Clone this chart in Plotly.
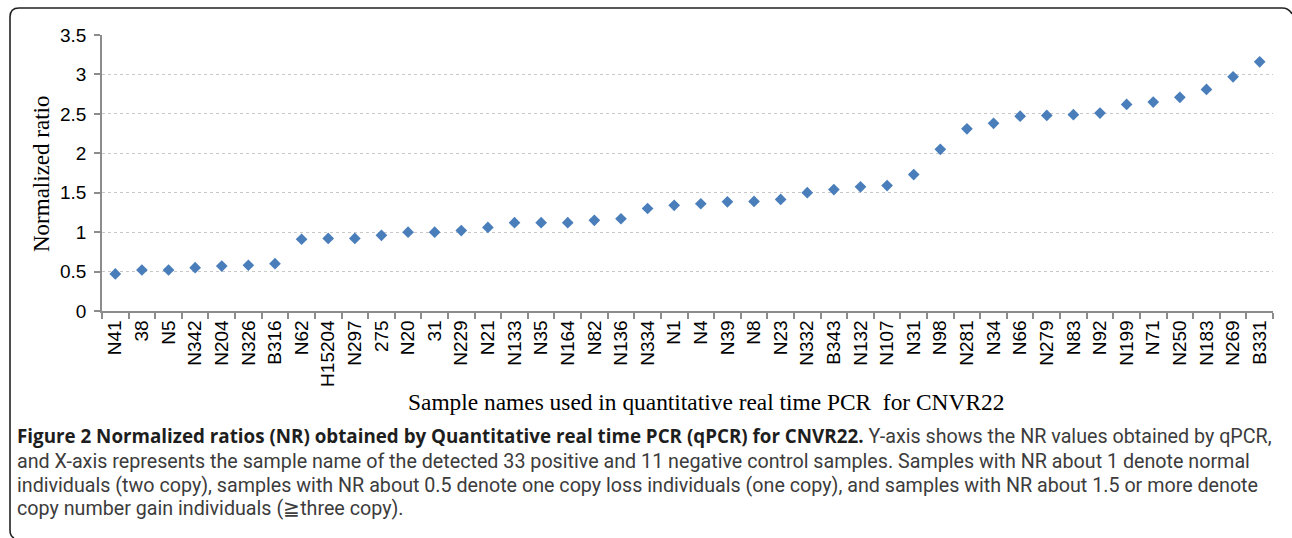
import plotly.graph_objects as go

W, H = 1292, 538

samples = ["N41", "38", "N5", "N342", "N204", "N326", "B316", "N62", "H15204", "N297",
           "275", "N20", "31", "N229", "N21", "N133", "N35", "N164", "N82", "N136",
           "N334", "N1", "N4", "N39", "N8", "N23", "N332", "B343", "N132", "N107",
           "N31", "N98", "N281", "N34", "N66", "N279", "N83", "N92", "N199", "N71",
           "N250", "N183", "N269", "B331"]
ratios = [0.47, 0.52, 0.52, 0.55, 0.57, 0.58, 0.60, 0.91, 0.92, 0.92,
          0.96, 1.00, 1.00, 1.02, 1.06, 1.12, 1.12, 1.12, 1.15, 1.17,
          1.30, 1.34, 1.36, 1.385, 1.39, 1.415, 1.50, 1.54, 1.575, 1.59,
          1.73, 2.05, 2.31, 2.38, 2.47, 2.48, 2.49, 2.51, 2.62, 2.65,
          2.71, 2.81, 2.97, 3.16]
y_ticks = [0, 0.5, 1, 1.5, 2, 2.5, 3, 3.5]

y_title = "Normalized ratio"
x_title = "Sample names used in quantitative real time PCR  for CNVR22"
caption_bold = "Figure 2 Normalized ratios (NR) obtained by Quantitative real time PCR (qPCR) for CNVR22."
caption_lines = [
    " Y-axis shows the NR values obtained by qPCR,",
    "and X-axis represents the sample name of the detected 33 positive and 11 negative control samples. Samples with NR about 1 denote normal",
    "individuals (two copy), samples with NR about 0.5 denote one copy loss individuals (one copy), and samples with NR about 1.5 or more denote",
    "copy number gain individuals (\u2267three copy).",
]


def px(x):
    return x / W


def py(y):
    return 1 - y / H


fig = go.Figure()
fig.add_trace(go.Scatter(
    x=samples, y=ratios, mode="markers",
    marker=dict(symbol="diamond", size=9, color="#4A7EBB", line=dict(width=0)),
    showlegend=False, hoverinfo="x+y",
))

axis_col = "#8C8C8C"
fig.update_layout(
    width=W, height=H,
    margin=dict(l=0, r=0, t=0, b=0, pad=0, autoexpand=False),
    paper_bgcolor="white", plot_bgcolor="white",
    xaxis=dict(
        domain=[px(102), px(1273)],
        type="category",
        range=[-0.5, len(samples) - 0.5],
        tickson="boundaries",
        ticks="outside", ticklen=6, tickwidth=1.5, tickcolor=axis_col,
        showline=True, linecolor=axis_col, linewidth=1.5,
        showgrid=False, zeroline=False,
        tickangle=-90, automargin=False,
        tickfont=dict(family="Liberation Sans, Arial", size=19, color="black"),
        anchor="y",
    ),
    yaxis=dict(
        domain=[py(311), py(35)],
        range=[0, 3.5],
        tickvals=y_ticks,
        ticktext=[f"{v:g}" for v in y_ticks],
        ticks="outside", ticklen=6, tickwidth=1.5, tickcolor=axis_col,
        ticklabelstandoff=4,
        showline=True, linecolor=axis_col, linewidth=1.5,
        showgrid=True, gridcolor="#C8C8C8", griddash="dot", gridwidth=1,
        zeroline=False, automargin=False,
        tickfont=dict(family="Liberation Sans, Arial", size=19, color="black"),
        anchor="x",
    ),
    font=dict(family="Liberation Sans, Arial", color="black"),
)

annotations = [
    dict(text=y_title, x=px(41), y=py(174), xref="paper", yref="paper",
         textangle=-90, showarrow=False, xanchor="center", yanchor="middle",
         font=dict(family="Liberation Serif, Times New Roman", size=23, color="black")),
    dict(text=x_title, x=px(706), y=py(402), xref="paper", yref="paper",
         showarrow=False, xanchor="center", yanchor="middle",
         font=dict(family="Liberation Serif, Times New Roman", size=23.4, color="black")),
]
cap_y = [436, 461, 485, 508]
for i, (line, yy) in enumerate(zip(caption_lines, cap_y)):
    text = line
    if i == 0:
        text = ("<span style=\"font-family:'Open Sans';font-size:18.8px;font-weight:bold;color:#1E1E1E\">"
                + caption_bold + "</span>" + line)
    annotations.append(dict(
        text=text, x=px(15), y=py(yy), xref="paper", yref="paper",
        showarrow=False, xanchor="left", yanchor="middle", align="left",
        font=dict(family="Roboto", size=19.7, color="#3C3C3C"),
    ))
fig.update_layout(annotations=annotations)

# outer frame (left and top sides with rounded corners)
path = (f"M {px(14)},{py(538)} Q {px(10)},{py(536)} {px(10)},{py(530)} "
        f"L {px(10)},{py(17)} Q {px(10)},{py(8)} {px(19)},{py(8)} "
        f"L {px(1282)},{py(8)} Q {px(1289)},{py(8)} {px(1292)},{py(14)}")
fig.add_shape(type="path", path=path, xref="paper", yref="paper",
              line=dict(color="#222222", width=1.6), layer="above")

fig.write_html("out.html", config={"displayModeBar": False},
               post_script="document.body.style.margin='0';")
